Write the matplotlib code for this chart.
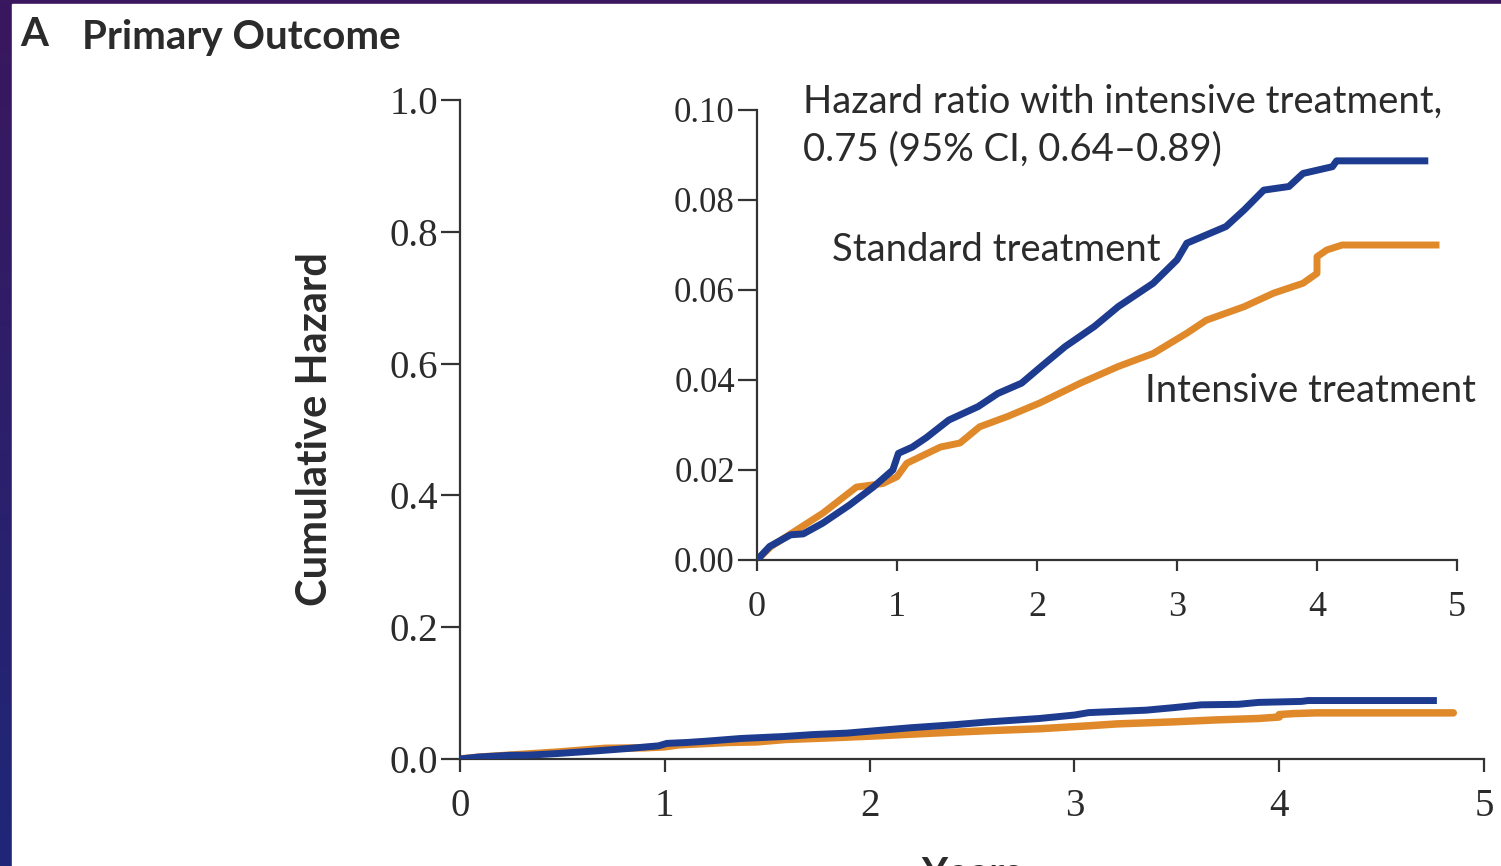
import numpy as np
import matplotlib.pyplot as plt
from matplotlib.patches import Rectangle
from matplotlib.colors import LinearSegmentedColormap

# Cumulative hazard (years, hazard)
std_years = [0.0, 0.09, 0.24, 0.33, 0.47, 0.66, 0.83, 0.97, 1.01, 1.11, 1.21, 1.37,
             1.58, 1.72, 1.89, 2.03, 2.2, 2.41, 2.58, 2.83, 3.0, 3.07, 3.35, 3.48,
             3.62, 3.8, 3.9, 4.11, 4.14, 4.77]
std_hazard = [0.0, 0.003, 0.0056, 0.0058, 0.0082, 0.0122, 0.0162, 0.020, 0.0237, 0.0251,
              0.0272, 0.0311, 0.0341, 0.037, 0.0393, 0.043, 0.0474, 0.0519, 0.0563, 0.0615,
              0.0667, 0.0704, 0.0741, 0.0778, 0.0822, 0.083, 0.0859, 0.0874, 0.0887, 0.0887]

int_years = [0.0, 0.1, 0.25, 0.47, 0.71, 0.9, 1.0, 1.07, 1.31, 1.45, 1.59, 1.79, 2.02,
             2.31, 2.58, 2.83, 3.07, 3.21, 3.48, 3.69, 3.9, 4.0, 4.0, 4.07, 4.18, 4.85]
int_hazard = [0.0, 0.003, 0.006, 0.0104, 0.0162, 0.017, 0.0185, 0.0215, 0.0251, 0.026,
              0.0296, 0.0319, 0.0349, 0.0393, 0.043, 0.0459, 0.0504, 0.0533, 0.0563,
              0.0593, 0.0615, 0.0637, 0.0674, 0.0689, 0.070, 0.070]

main_yticks = [0.0, 0.2, 0.4, 0.6, 0.8, 1.0]
inset_yticks = [0.0, 0.02, 0.04, 0.06, 0.08, 0.10]
xticks = [0, 1, 2, 3, 4, 5]

BLUE = "#1e3c8f"
ORANGE = "#e0892b"
TXT = "#2b2b2b"
SANS = ["Lato", "DejaVu Sans"]
SERIF = ["Liberation Serif", "DejaVu Serif"]

fig = plt.figure(figsize=(15.01, 8.66), dpi=100)

# dark slide border with white card
bg = fig.add_axes([0, 0, 1, 1], zorder=-10)
grad = np.linspace(0, 1, 256).reshape(-1, 1)
cmap = LinearSegmentedColormap.from_list("border", ["#3a175e", "#1f2778"])
bg.imshow(grad, aspect="auto", cmap=cmap, extent=[0, 1, 0, 1])
bg.add_patch(Rectangle((12 / 1501, 0), 1, 1 - 4 / 866, color="white", transform=bg.transAxes))
bg.set_xlim(0, 1); bg.set_ylim(0, 1)
bg.axis("off")

def style_axes(ax, ylen, xlen, ypad, xpad, ysize, xsize):
    for s in ["top", "right"]:
        ax.spines[s].set_visible(False)
    for s in ["left", "bottom"]:
        ax.spines[s].set_linewidth(1.6)
        ax.spines[s].set_color("#333333")
    ax.tick_params(axis="y", length=ylen, width=1.6, pad=ypad, colors="#333333")
    ax.tick_params(axis="x", length=xlen, width=1.6, pad=xpad, colors="#333333")
    for lab in ax.get_yticklabels():
        lab.set_family(SERIF); lab.set_fontsize(ysize); lab.set_color(TXT)
    for lab in ax.get_xticklabels():
        lab.set_family(SERIF); lab.set_fontsize(xsize); lab.set_color(TXT)

# Main axes
ax = fig.add_axes([460 / 1501, 107 / 866, 1024 / 1501, 659 / 866], facecolor="none")
ax.plot(std_years, std_hazard, color=BLUE, lw=5.0, solid_capstyle="butt", zorder=3)
ax.plot(int_years, int_hazard, color=ORANGE, lw=5.4, solid_capstyle="round", zorder=2)
ax.set_xlim(0, 5); ax.set_ylim(0, 1)
ax.set_yticks(main_yticks)
ax.set_yticklabels(["%.1f" % v for v in main_yticks])
ax.set_xticks(xticks)
ax.set_xticklabels([str(v) for v in xticks])
style_axes(ax, 14, 9, 2, 12, 28, 28)
ax.set_ylabel("Cumulative Hazard", family=SANS, fontsize=30, fontweight="bold",
              color=TXT, labelpad=40)

# Inset axes
ins = fig.add_axes([757 / 1501, 306 / 866, 700 / 1501, 450 / 866], facecolor="none")
ins.plot(std_years, std_hazard, color=BLUE, lw=5.0, zorder=3)
ins.plot(int_years, int_hazard, color=ORANGE, lw=5.0, zorder=2)
ins.set_xlim(0, 5); ins.set_ylim(0, 0.10)
ins.set_yticks(inset_yticks)
ins.set_yticklabels(["%.2f" % v for v in inset_yticks])
ins.set_xticks(xticks)
ins.set_xticklabels([str(v) for v in xticks])
style_axes(ins, 14, 8, 2, 14, 25, 26)

ins.text(0.33, 0.1058, "Hazard ratio with intensive treatment,\n0.75 (95% CI, 0.64\u20130.89)",
         family=SANS, fontsize=27.5, color=TXT, va="top", ha="left", linespacing=1.38)
ins.text(0.536, 0.0689, "Standard treatment", family=SANS, fontsize=27.5, color=TXT,
         va="center", ha="left")
ins.text(2.77, 0.0376, "Intensive treatment", family=SANS, fontsize=27.5, color=TXT,
         va="center", ha="left")

# Title and x label (cut by the bottom edge, as in the source slide)
fig.text(20 / 1501, 1 - 34 / 866, "A", family=SANS, fontsize=29, fontweight="bold",
         color=TXT, va="center", ha="left")
fig.text(82 / 1501, 1 - 37 / 866, "Primary Outcome", family=SANS, fontsize=29,
         fontweight="bold", color=TXT, va="center", ha="left")
fig.text(972 / 1501, 1 - 856 / 866, "Years", family=SANS, fontsize=29, fontweight="bold",
         color=TXT, va="top", ha="center")

fig.savefig("out.png", dpi=100)
